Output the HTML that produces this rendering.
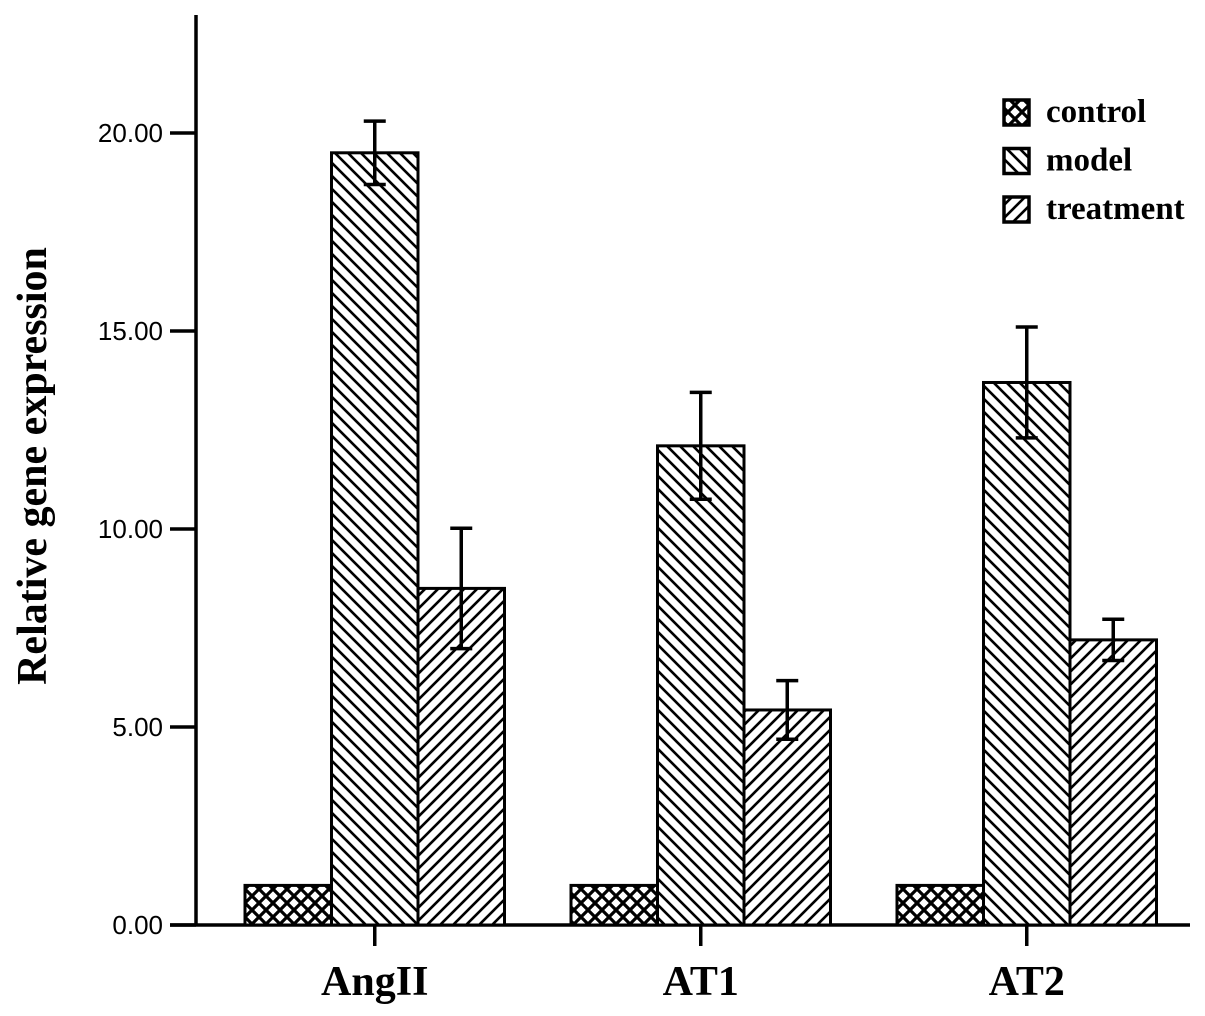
<!DOCTYPE html>
<html><head><meta charset="utf-8"><style>
body{margin:0;background:#fff}
svg{display:block}
</style></head><body>
<svg id="chart" width="1205" height="1016" xmlns="http://www.w3.org/2000/svg">
<defs>
<pattern id="pCross" width="14" height="14" patternUnits="userSpaceOnUse">
<rect width="14" height="14" fill="#fff"/>
<path d="M0,0L14,14M14,0L0,14M-7,7L7,21M7,-7L21,7M7,-7L-7,7M21,7L7,21" stroke="#000" stroke-width="3.2"/>
</pattern>
<pattern id="pModel" width="13" height="13" patternUnits="userSpaceOnUse">
<rect width="13" height="13" fill="#fff"/>
<path d="M0,0L13,13M-6.5,6.5L6.5,19.5M6.5,-6.5L19.5,6.5" stroke="#000" stroke-width="2.6"/>
</pattern>
<pattern id="pTreat" width="13" height="13" patternUnits="userSpaceOnUse">
<rect width="13" height="13" fill="#fff"/>
<path d="M13,0L0,13M6.5,-6.5L-6.5,6.5M19.5,6.5L6.5,19.5" stroke="#000" stroke-width="2.6"/>
</pattern>
</defs>
<g id="plot"></g>
</svg>
<script>
const categories=["AngII","AT1","AT2"];
const seriesNames=["control","model","treatment"];
const controlVals=[1.0,1.0,1.0];
const modelVals=[19.5,12.1,13.7];
const treatVals=[8.5,5.43,7.2];
const modelErr=[0.8,1.35,1.4];
const treatErr=[1.52,0.74,0.52];
const controlErr=[0,0,0];
const yTicks=[0,5,10,15,20];
const yTickLabels=["0.00","5.00","10.00","15.00","20.00"];

const NS="http://www.w3.org/2000/svg";
const g=document.getElementById('plot');
const y0=925, pxPerUnit=39.6;
function yS(v){return y0-v*pxPerUnit;}
const groupStart=[245,571,897], barW=86.5;
function xS(ci,si){return groupStart[ci]+si*barW;}
function mk(tag,attrs,name,parent){const e=document.createElementNS(NS,tag);for(const k in attrs)e.setAttribute(k,attrs[k]);


(parent||g).appendChild(e);return e;}
const fills=["url(#pCross)","url(#pModel)","url(#pTreat)"];
const vals=[controlVals,modelVals,treatVals];
const errs=[controlErr,modelErr,treatErr];
mk('line',{x1:196,y1:15,x2:196,y2:y0,stroke:'#000','stroke-width':3.5},'y-axis-line');
mk('line',{x1:170,y1:y0,x2:1190,y2:y0,stroke:'#000','stroke-width':3.5},'x-axis-line');
yTicks.forEach((t,i)=>{
 mk('line',{x1:170,y1:yS(t),x2:196,y2:yS(t),stroke:'#000','stroke-width':3.5},'y-tick');
 const tx=mk('text',{x:163,y:yS(t)+9,'text-anchor':'end','font-family':'Liberation Sans, sans-serif','font-size':26,fill:'#000'},'y-tick-label');
 tx.textContent=yTickLabels[i];
});
categories.forEach((c,ci)=>{
 for(let si=0;si<3;si++){
  const v=vals[si][ci];
  mk('rect',{x:xS(ci,si),y:yS(v),width:barW,height:y0-yS(v),fill:fills[si],stroke:'#000','stroke-width':3},'bar-'+c.toLowerCase()+'-'+seriesNames[si]);
  const e=errs[si][ci];
  if(e>0){
   const cx=xS(ci,si)+barW/2;
   mk('line',{x1:cx,y1:yS(v+e),x2:cx,y2:yS(v-e),stroke:'#000','stroke-width':3.5},'error-bar');
   mk('line',{x1:cx-11,y1:yS(v+e),x2:cx+11,y2:yS(v+e),stroke:'#000','stroke-width':3.5},'error-cap');
   mk('line',{x1:cx-11,y1:yS(v-e),x2:cx+11,y2:yS(v-e),stroke:'#000','stroke-width':3.5},'error-cap');
  }
 }
 const cx=xS(ci,1)+barW/2;
 mk('line',{x1:cx,y1:y0,x2:cx,y2:y0+21,stroke:'#000','stroke-width':3.5},'x-tick');
 const t=mk('text',{x:cx,y:995,'text-anchor':'middle','font-family':'Liberation Serif, serif','font-weight':'bold','font-size':42,fill:'#000'},'x-tick-label');
 t.textContent=c;
});
const yt=mk('text',{x:0,y:0,transform:'translate(46,466) rotate(-90)','text-anchor':'middle','font-family':'Liberation Serif, serif','font-weight':'bold','font-size':42,fill:'#000'},'y-axis-title');
yt.textContent="Relative gene expression";
const lg=mk('g',{},'legend');
seriesNames.forEach((n,i)=>{
 const ly=100+i*48.5;
 mk('rect',{x:1004,y:ly,width:25,height:25,fill:fills[i],stroke:'#000','stroke-width':3.5},'legend-swatch-'+n,lg);
 const t=mk('text',{x:1046,y:ly+22,'font-family':'Liberation Serif, serif','font-weight':'bold','font-size':33,fill:'#000'},'legend-entry-'+n,lg);
 t.textContent=n;
});
</script>
</body></html>
